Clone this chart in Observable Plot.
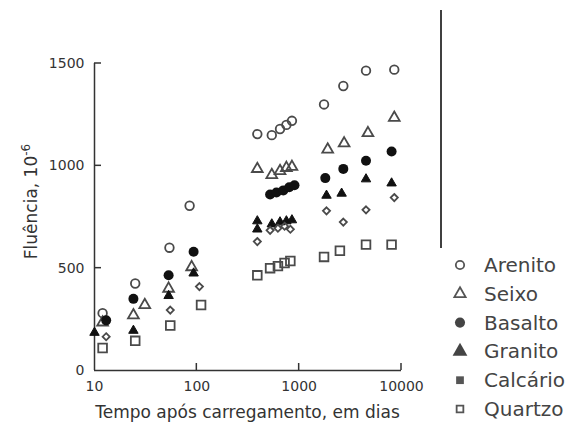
<!DOCTYPE html>
<html>
<head>
<meta charset="utf-8">
<script src="https://cdn.jsdelivr.net/npm/d3@7"></script>
<script src="https://cdn.jsdelivr.net/npm/@observablehq/plot@0.6"></script>
<style>
  body { margin: 0; background: #fff; }
  #chart { width: 574px; height: 428px; }
</style>
</head>
<body>
<div id="chart"></div>
<script>
// Creep (µstrain) versus time under load (days), by aggregate type: [days, creep]
const arenito  = [[12, 280], [25, 425], [54, 600], [85, 805], [390, 1155], [540, 1150], [650, 1180], [750, 1200], [850, 1220], [1750, 1300], [2700, 1390], [4500, 1465], [8500, 1470]];
const seixo    = [[12, 235], [24, 270], [31, 320], [53, 400], [89, 505], [390, 985], [540, 955], [650, 975], [750, 990], [850, 995], [1900, 1080], [2750, 1110], [4700, 1160], [8500, 1235]];
const basalto  = [[13, 245], [24, 350], [53, 465], [93, 580], [520, 860], [600, 870], [700, 880], [800, 895], [900, 905], [1800, 940], [2700, 985], [4500, 1025], [8000, 1070]];
const granito  = [[10, 185], [24, 195], [53, 365], [93, 475], [390, 730], [390, 690], [540, 715], [650, 725], [750, 730], [850, 735], [1850, 855], [2600, 865], [4500, 935], [8000, 915]];
const calcario = [[13, 165], [55, 295], [106, 410], [390, 630], [520, 685], [620, 695], [720, 705], [820, 690], [1850, 780], [2700, 725], [4500, 785], [8500, 845]];
const quartzo  = [[12, 110], [25, 145], [55, 220], [110, 320], [390, 465], [520, 500], [620, 510], [720, 525], [820, 535], [1750, 555], [2500, 585], [4500, 615], [8000, 615]];

const rockNames = ["Arenito", "Seixo", "Basalto", "Granito", "Calcário", "Quartzo"];
const xTicks = [10, 100, 1000, 10000];
const yTicks = [0, 500, 1000, 1500];

const FONT = '"DejaVu Sans", Verdana, sans-serif';
const INK = "#333";

// marker style per rock type
const series = [
  { name: "Arenito",  data: arenito,  symbol: "circle",   fill: "none", stroke: "#4a4a4a", r: 4.3, sw: 1.8 },
  { name: "Seixo",    data: seixo,    symbol: "triangle", fill: "none", stroke: "#4a4a4a", r: 4.0, sw: 1.8 },
  { name: "Basalto",  data: basalto,  symbol: "circle",   fill: "#111", stroke: "none",    r: 5.0, sw: 0 },
  { name: "Granito",  data: granito,  symbol: "triangle", fill: "#111", stroke: "#111",    r: 3.5, sw: 1 },
  { name: "Calcário", data: calcario, symbol: "diamond2", fill: "none", stroke: "#4a4a4a", r: 3.2, sw: 1.8 },
  { name: "Quartzo",  data: quartzo,  symbol: "square",   fill: "none", stroke: "#4a4a4a", r: 4.9, sw: 1.8 }
];

const plot = Plot.plot({
  width: 574,
  height: 428,
  marginLeft: 94,
  marginRight: 173,
  marginTop: 63,
  marginBottom: 58,
  x: { type: "log", domain: [10, 10000] },
  y: { domain: [0, 1500] },
  style: { fontFamily: FONT, fontSize: "14px", color: INK, background: "#fff" },
  marks: [
    Plot.axisX(xTicks, { tickSize: 0, tickPadding: 11, tickFormat: d => String(d), label: null, fill: INK }),
    Plot.axisY(yTicks, { tickSize: 0, tickPadding: 10, tickFormat: d => String(d), label: null, fill: INK }),
    Plot.ruleX([10], { stroke: INK, strokeWidth: 1.5 }),
    Plot.ruleY([0], { stroke: INK, strokeWidth: 1.5 }),
    ...series.map(s => Plot.dot(s.data, {
      x: d => d[0], y: d => d[1],
      symbol: s.symbol, r: s.r,
      fill: s.fill, stroke: s.stroke, strokeWidth: s.sw
    }))
  ]
});

document.getElementById("chart").appendChild(plot);

// inward tick marks, placed with the plot's own scales
const svg = d3.select(plot);
const sx = plot.scale("x"), sy = plot.scale("y");
const x0 = sx.apply(10), y0 = sy.apply(0);
const tickLen = 7;
const ticks = svg.append("g").attr("stroke", INK).attr("stroke-width", 1.5);
xTicks.slice(1).forEach(t => {
  const px = sx.apply(t);
  ticks.append("line").attr("x1", px).attr("x2", px).attr("y1", y0).attr("y2", y0 - tickLen);
});
yTicks.slice(1).forEach(v => {
  const py = sy.apply(v);
  ticks.append("line").attr("x1", x0).attr("x2", x0 + tickLen).attr("y1", py).attr("y2", py);
});

// axis titles
const titles = svg.append("g").attr("font-family", FONT).attr("fill", INK);
titles.append("text")
  .attr("x", (sx.apply(10) + sx.apply(10000)) / 2)
  .attr("y", 418)
  .attr("font-size", 17)
  .attr("text-anchor", "middle")
  .text("Tempo após carregamento, em dias");
const yt = titles.append("text")
  .attr("transform", `translate(37,${(sy.apply(0) + sy.apply(1500)) / 2 - 15}) rotate(-90)`)
  .attr("font-size", 17)
  .attr("text-anchor", "middle");
yt.append("tspan").text("Fluência, 10");
yt.append("tspan").attr("font-size", 12).attr("dy", -7).text("-6");

// separator line at the right
svg.append("line")
  .attr("x1", 441).attr("x2", 441).attr("y1", 10).attr("y2", 248)
  .attr("stroke", "#000").attr("stroke-width", 1.5);

// legend
const legendGlyphs = [
  { type: d3.symbolCircle,   size: 55,  fill: "none", stroke: "#555" },
  { type: d3.symbolTriangle, size: 55,  fill: "none", stroke: "#555" },
  { type: d3.symbolCircle,   size: 80,  fill: "#444", stroke: "none" },
  { type: d3.symbolTriangle, size: 95,  fill: "#444", stroke: "none" },
  { type: d3.symbolSquare,   size: 60,  fill: "#555", stroke: "none" },
  { type: d3.symbolSquare,   size: 45,  fill: "none", stroke: "#555" }
];
const legend = svg.append("g")
  .attr("font-family", FONT).attr("font-size", 20).attr("fill", "#444")
  .attr("text-anchor", "start");
rockNames.forEach((name, i) => {
  const cy = 265 + i * 28.8;
  const g = legendGlyphs[i];
  legend.append("path")
    .attr("transform", `translate(460,${cy})`)
    .attr("d", d3.symbol(g.type, g.size)())
    .attr("fill", g.fill).attr("stroke", g.stroke).attr("stroke-width", 1.8);
  legend.append("text").attr("x", 484).attr("y", cy + 7).text(name);
});
</script>
</body>
</html>
